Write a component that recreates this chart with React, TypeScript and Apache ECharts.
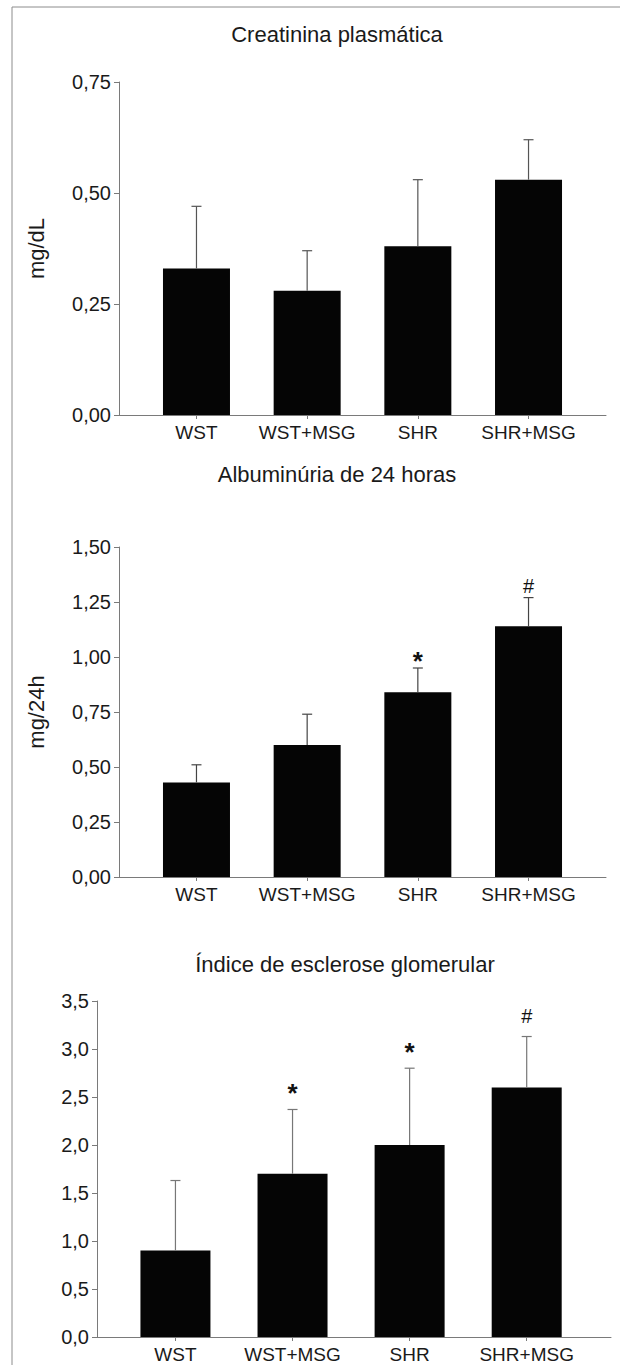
import React, { useEffect, useRef } from "react";
import * as echarts from "echarts";

const categories = ["WST", "WST+MSG", "SHR", "SHR+MSG"];

const creatTitle = "Creatinina plasmática";
const creatMean = [0.33, 0.28, 0.38, 0.53];
const creatUpper = [0.47, 0.37, 0.53, 0.62];
const creatMarks = ["", "", "", ""];

const albTitle = "Albuminúria de 24 horas";
const albMean = [0.43, 0.6, 0.84, 1.14];
const albUpper = [0.51, 0.74, 0.95, 1.27];
const albMarks = ["", "", "*", "#"];

const escTitle = "Índice de esclerose glomerular";
const escMean = [0.9, 1.7, 2.0, 2.6];
const escUpper = [1.63, 2.37, 2.8, 3.13];
const escMarks = ["", "*", "*", "#"];

const FONT = "'Liberation Sans', Arial, sans-serif";
const AXIS_COLOR = "#7a7a7a";
const TEXT_COLOR = "#1a1a1a";

type Panel = {
  title: string;
  titleX: number;
  titleY: number;
  yName: string;
  mean: number[];
  upper: number[];
  marks: string[];
  grid: { left: number; top: number; width: number; height: number };
  xMin: number;
  xMax: number;
  yMax: number;
  yInterval: number;
  decimals: number;
  barWidth: number;
  errColor: string;
  markGap: number;
};

const panels: Panel[] = [
  {
    title: creatTitle,
    titleX: 332,
    titleY: 18,
    yName: "mg/dL",
    mean: creatMean,
    upper: creatUpper,
    marks: creatMarks,
    grid: { left: 119, top: 82, width: 487, height: 333 },
    xMin: -0.7,
    xMax: 3.7,
    yMax: 0.75,
    yInterval: 0.25,
    decimals: 2,
    barWidth: 67,
    errColor: "#555",
    markGap: 11,
  },
  {
    title: albTitle,
    titleX: 332,
    titleY: 458,
    yName: "mg/24h",
    mean: albMean,
    upper: albUpper,
    marks: albMarks,
    grid: { left: 119, top: 547, width: 487, height: 330 },
    xMin: -0.7,
    xMax: 3.7,
    yMax: 1.5,
    yInterval: 0.25,
    decimals: 2,
    barWidth: 67,
    errColor: "#444",
    markGap: 11,
  },
  {
    title: escTitle,
    titleX: 340,
    titleY: 948,
    yName: "",
    mean: escMean,
    upper: escUpper,
    marks: escMarks,
    grid: { left: 97, top: 1001, width: 514, height: 336 },
    xMin: -0.67,
    xMax: 3.72,
    yMax: 3.5,
    yInterval: 0.5,
    decimals: 1,
    barWidth: 70,
    errColor: "#777",
    markGap: 20,
  },
];

export default function App() {
  const ref = useRef<HTMLDivElement>(null);

  useEffect(() => {
    document.body.style.margin = "0";
    if (!ref.current) return;
    const chart = echarts.init(ref.current, undefined, { renderer: "svg" });

    const grids: any[] = [];
    const xAxes: any[] = [];
    const yAxes: any[] = [];
    const series: any[] = [];
    const titles: any[] = [];

    panels.forEach((p, i) => {
      grids.push({ ...p.grid, containLabel: false });
      titles.push({
        text: p.title,
        left: p.titleX,
        top: p.titleY,
        textAlign: "center",
        textStyle: { fontFamily: FONT, fontSize: 22, fontWeight: "normal", color: TEXT_COLOR },
      });
      xAxes.push({
        type: "value",
        gridIndex: i,
        min: p.xMin,
        max: p.xMax,
        splitLine: { show: false },
        axisLine: { show: true, onZero: false, lineStyle: { color: AXIS_COLOR, width: 1 } },
        axisTick: { show: true, customValues: [0, 1, 2, 3], length: 4, lineStyle: { color: AXIS_COLOR } },
        axisLabel: {
          customValues: [0, 1, 2, 3],
          formatter: (v: number) => categories[Math.round(v)] ?? "",
          fontFamily: FONT,
          fontSize: 19,
          color: TEXT_COLOR,
          margin: 8,
        },
      });
      yAxes.push({
        type: "value",
        gridIndex: i,
        min: 0,
        max: p.yMax,
        interval: p.yInterval,
        name: p.yName,
        nameLocation: "middle",
        nameRotate: 90,
        nameGap: 72,
        nameTextStyle: { fontFamily: FONT, fontSize: 22, color: TEXT_COLOR },
        splitLine: { show: false },
        axisLine: { show: true, onZero: false, lineStyle: { color: AXIS_COLOR, width: 1 } },
        axisTick: { show: true, length: 5, lineStyle: { color: AXIS_COLOR } },
        axisLabel: {
          formatter: (v: number) => v.toFixed(p.decimals).replace(".", ","),
          fontFamily: FONT,
          fontSize: 20,
          color: TEXT_COLOR,
          margin: 8,
        },
      });
      series.push({
        type: "bar",
        xAxisIndex: i,
        yAxisIndex: i,
        barWidth: p.barWidth,
        itemStyle: { color: "#050505" },
        data: p.mean.map((m, k) => [k, m]),
        z: 2,
      });
      const errColor = p.errColor;
      const marks = p.marks;
      const gap = p.markGap;
      series.push({
        type: "custom",
        xAxisIndex: i,
        yAxisIndex: i,
        z: 3,
        data: p.mean.map((m, k) => [k, m, p.upper[k]]),
        renderItem: (params: any, api: any) => {
          const x = api.value(0);
          const p0 = api.coord([x, api.value(1)]);
          const p1 = api.coord([x, api.value(2)]);
          const mark = marks[params.dataIndex];
          const children: any[] = [
            {
              type: "line",
              shape: { x1: p0[0], y1: p0[1], x2: p1[0], y2: p1[1] },
              style: { stroke: errColor, lineWidth: 1.2 },
            },
            {
              type: "line",
              shape: { x1: p1[0] - 5, y1: p1[1], x2: p1[0] + 5, y2: p1[1] },
              style: { stroke: errColor, lineWidth: 1.2 },
            },
          ];
          if (mark) {
            const isStar = mark === "*";
            children.push({
              type: "text",
              x: p1[0],
              y: p1[1] - gap + (isStar ? 17 : 9),
              style: {
                text: mark,
                textAlign: "center",
                textVerticalAlign: "bottom",
                fontFamily: FONT,
                fontSize: isStar ? 26 : 20,
                fontWeight: isStar ? "bold" : "normal",
                fill: "#111",
              },
            });
          }
          return { type: "group", children };
        },
      });
    });

    chart.setOption({
      animation: false,
      backgroundColor: "#ffffff",
      title: titles,
      grid: grids,
      xAxis: xAxes,
      yAxis: yAxes,
      series,
      graphic: [
        {
          type: "line",
          shape: { x1: 12, y1: 7, x2: 620, y2: 7 },
          style: { stroke: "#8c8c8c", lineWidth: 1 },
        },
        {
          type: "line",
          shape: { x1: 12, y1: 7, x2: 12, y2: 1365 },
          style: { stroke: "#8c8c8c", lineWidth: 1 },
        },
      ],
    });

    return () => chart.dispose();
  }, []);

  return <div ref={ref} style={{ width: 620, height: 1365 }} />;
}
